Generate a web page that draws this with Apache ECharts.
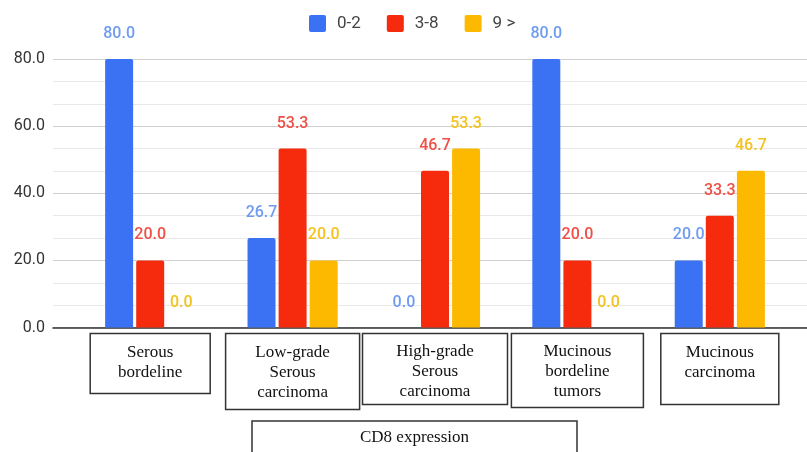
<!DOCTYPE html>
<html>
<head>
<meta charset="utf-8">
<script src="https://cdn.jsdelivr.net/npm/echarts@6/dist/echarts.min.js"></script>
<style>html,body{margin:0;padding:0;background:#fff;}#c{width:807px;height:452px;}</style>
</head>
<body>
<div id="c"></div>
<script>
// ---- data ----
var categories = ['Serous\nbordeline', 'Low-grade\nSerous\ncarcinoma', 'High-grade\nSerous\ncarcinoma', 'Mucinous\nbordeline\ntumors', 'Mucinous\ncarcinoma'];
var seriesNames = ['0-2', '3-8', '9 >'];
var values02 = [80.0, 26.7, 0.0, 80.0, 20.0];
var values38 = [20.0, 53.3, 46.7, 20.0, 33.3];
var values9 = [0.0, 20.0, 53.3, 0.0, 46.7];
var yTicks = [0, 20, 40, 60, 80];
var axisTitle = 'CD8 expression';

// ---- styles (layout only) ----
var boxWidths = [120, 134, 145, 132, 118];
var boxPads = [[9, 0, 11, 0], [9, 0, 7, 0], [8, 0, 3, 0], [8, 0, 6, 0], [9, 0, 22, 0]];
var barColors = ['#3b72f3', '#f62a0c', '#fdb900'];
var labelColors = ['#6f9bf0', '#ee4f47', '#f3c21e'];

var chart = echarts.init(document.getElementById('c'), null, {renderer: 'canvas'});
var yMin = yTicks[0], yMax = yTicks[yTicks.length - 1], yStep = yTicks[1] - yTicks[0];

var catData = categories.map(function (c, i) {
  return {
    value: c,
    textStyle: {
      width: boxWidths[i],
      padding: boxPads[i]
    }
  };
});

function mkSeries(name, vals, idx) {
  return {
    name: name,
    type: 'bar',
    xAxisIndex: 1,
    yAxisIndex: 1,
    data: vals,
    barWidth: 28,
    barGap: '11%',
    itemStyle: {color: barColors[idx], borderRadius: [2, 2, 0, 0]},
    label: {
      show: true,
      position: 'top',
      distance: 17,
      color: labelColors[idx],
      fontFamily: 'Roboto',
      fontSize: 16,
      fontWeight: 500,
      formatter: function (p) { return p.value.toFixed(1); }
    }
  };
}

var option = {
  animation: false,
  backgroundColor: '#ffffff',
  title: {
    text: axisTitle,
    left: 252,
    top: 421,
    borderColor: '#333',
    borderWidth: 1.5,
    padding: [7, 108, 20, 108],
    textStyle: {fontFamily: 'Liberation Serif', fontSize: 17, fontWeight: 'normal', color: '#111', lineHeight: 20}
  },
  legend: {
    data: seriesNames,
    left: 304,
    top: 10,
    icon: 'path://M2,0 L15,0 Q17,0 17,2 L17,15 Q17,17 15,17 L2,17 Q0,17 0,15 L0,2 Q0,0 2,0 Z',
    itemWidth: 17,
    itemHeight: 17,
    itemGap: 26,
    textStyle: {fontFamily: 'Roboto', fontSize: 17, color: '#444', padding: [0, 0, 0, 6]}
  },
  grid: [
    {left: 53, right: 0, top: 59, bottom: 124.5},
    {left: 79, right: 16, top: 59, bottom: 124.5}
  ],
  xAxis: [
    {
      gridIndex: 0, type: 'category', data: [''],
      axisLine: {show: true, lineStyle: {color: '#333', width: 1.5}},
      axisTick: {show: false}, axisLabel: {show: false}, splitLine: {show: false}
    },
    {
      gridIndex: 1, type: 'category', data: catData,
      axisLine: {show: false}, axisTick: {show: false},
      axisLabel: {
        show: true, interval: 0, margin: 6,
        fontFamily: 'Liberation Serif', fontSize: 17, lineHeight: 20, color: '#111',
        borderColor: '#333', borderWidth: 1.5, align: 'center', verticalAlign: 'top'
      }
    }
  ],
  yAxis: [
    {
      gridIndex: 0, type: 'value', min: yMin, max: yMax, interval: yStep,
      axisLine: {show: false}, axisTick: {show: false},
      axisLabel: {fontFamily: 'Roboto', fontSize: 16, color: '#333', margin: 8,
        formatter: function (v) { return v.toFixed(1); }},
      splitLine: {show: true, lineStyle: {color: '#cfcfcf', width: 1}},
      minorTick: {show: false, splitNumber: 3},
      minorSplitLine: {show: true, lineStyle: {color: '#e9e9e9', width: 1}}
    },
    {
      gridIndex: 1, type: 'value', min: yMin, max: yMax, interval: yStep, show: false,
      splitLine: {show: false}
    }
  ],
  series: [
    mkSeries(seriesNames[0], values02, 0),
    mkSeries(seriesNames[1], values38, 1),
    mkSeries(seriesNames[2], values9, 2)
  ]
};
chart.setOption(option);
</script>
</body>
</html>
